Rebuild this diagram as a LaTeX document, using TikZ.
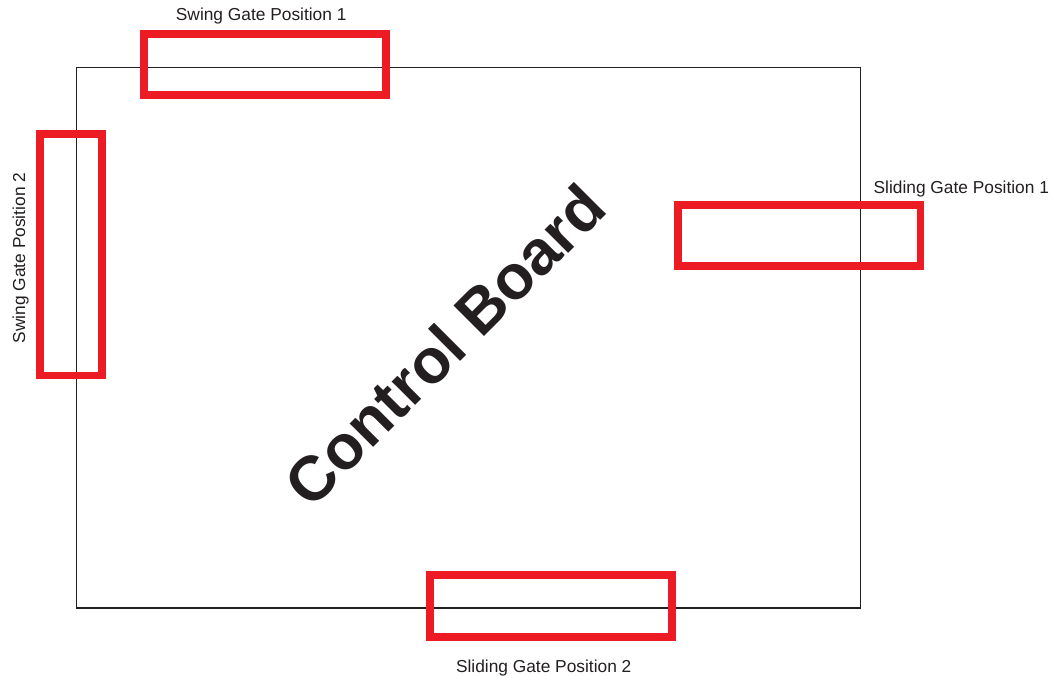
\documentclass[tikz,border=0pt]{standalone}
\usepackage{fontspec}
\setmainfont{Liberation Sans}
\definecolor{gatered}{HTML}{ED1C24}
\definecolor{ink}{HTML}{231F20}
\begin{document}
\begin{tikzpicture}[x=1bp,y=-1bp,
  gatebox/.style={draw=gatered, line width=7.7bp, rectangle, inner sep=0pt, outer sep=0pt},
  boardbox/.style={draw=ink, line width=1.1bp, rectangle, inner sep=0pt, outer sep=0pt},
  lbl/.style={text=ink, font=\fontsize{17.4}{20}\selectfont, anchor=base, inner sep=0pt},
  title/.style={text=ink, font=\fontsize{63}{70}\selectfont\bfseries, rotate=45, inner sep=0pt}]
\useasboundingbox (0,0) rectangle (1053,676);
\node[boardbox, minimum width=783.6bp, minimum height=540.3bp] (board) at (468.5,337.85) {};
\node[title] (cb) at (445,345) {Control Board};
\node[gatebox, minimum width=242.3bp, minimum height=61.3bp] (sw1) at (264.8,64.4) {};
\node[gatebox, minimum width=62.1bp, minimum height=241.8bp] (sw2) at (70.8,254.6) {};
\node[gatebox, minimum width=242.5bp, minimum height=61bp] (sl1) at (799.3,235.8) {};
\node[gatebox, minimum width=242bp, minimum height=61.4bp] (sl2) at (551,606) {};
\node[lbl] (lsw1) at (261.2,20.7) {Swing Gate Position 1};
\node[lbl, rotate=90] (lsw2) at (25,258) {Swing Gate Position 2};
\node[lbl] (lsl1) at (961.3,193.3) {Sliding Gate Position 1};
\node[lbl] (lsl2) at (543.7,672) {Sliding Gate Position 2};
\end{tikzpicture}
\end{document}
